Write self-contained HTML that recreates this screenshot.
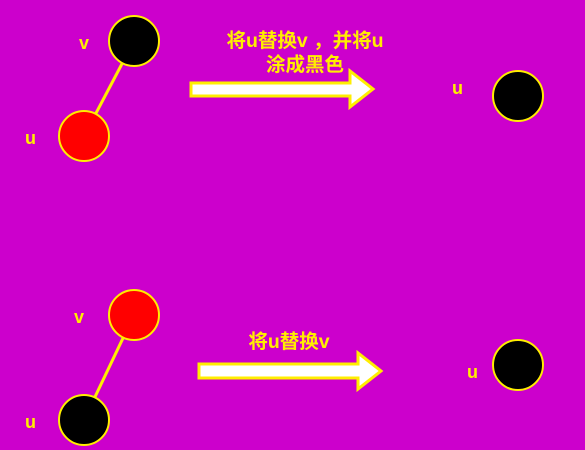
<!DOCTYPE html>
<html><head><meta charset="utf-8"><style>
html,body{margin:0;padding:0;background:#cc00cc;}
svg{display:block;}
text{font-family:"Liberation Sans","Noto Sans CJK SC",sans-serif;font-weight:bold;fill:#ffee00;font-size:18px;}
.cap{font-size:19.5px;}
</style></head><body>
<svg width="585" height="450" viewBox="0 0 585 450">
<g>
<line x1="84" y1="136" x2="134" y2="41" stroke="#ffee00" stroke-width="3"/>
<circle cx="134" cy="41" r="25" fill="#000" stroke="#ffee00" stroke-width="2"/>
<circle cx="84" cy="136" r="25" fill="#ff0000" stroke="#ffee00" stroke-width="2"/>
<text x="79" y="49">v</text>
<text x="25" y="144">u</text>
<path d="M191,83 L350,83 L350,71 L373,89 L350,107 L350,96 L191,96 Z" fill="#fff" stroke="#ffee00" stroke-width="3"/>
<text class="cap" x="305" y="47" text-anchor="middle">将u替换v ，并将u</text>
<text class="cap" x="305" y="71" text-anchor="middle">涂成黑色</text>
<circle cx="518" cy="96" r="25" fill="#000" stroke="#ffee00" stroke-width="2"/>
<text x="452" y="94">u</text>
</g>
<g>
<line x1="84" y1="420" x2="134" y2="315" stroke="#ffee00" stroke-width="3"/>
<circle cx="134" cy="315" r="25" fill="#ff0000" stroke="#ffee00" stroke-width="2"/>
<circle cx="84" cy="420" r="25" fill="#000" stroke="#ffee00" stroke-width="2"/>
<text x="74" y="323">v</text>
<text x="25" y="428">u</text>
<path d="M199,364 L358,364 L358,353 L381,371 L358,389 L358,378 L199,378 Z" fill="#fff" stroke="#ffee00" stroke-width="3"/>
<text class="cap" x="289" y="348" text-anchor="middle">将u替换v</text>
<circle cx="518" cy="365" r="25" fill="#000" stroke="#ffee00" stroke-width="2"/>
<text x="467" y="378">u</text>
</g>
</svg>
</body></html>
